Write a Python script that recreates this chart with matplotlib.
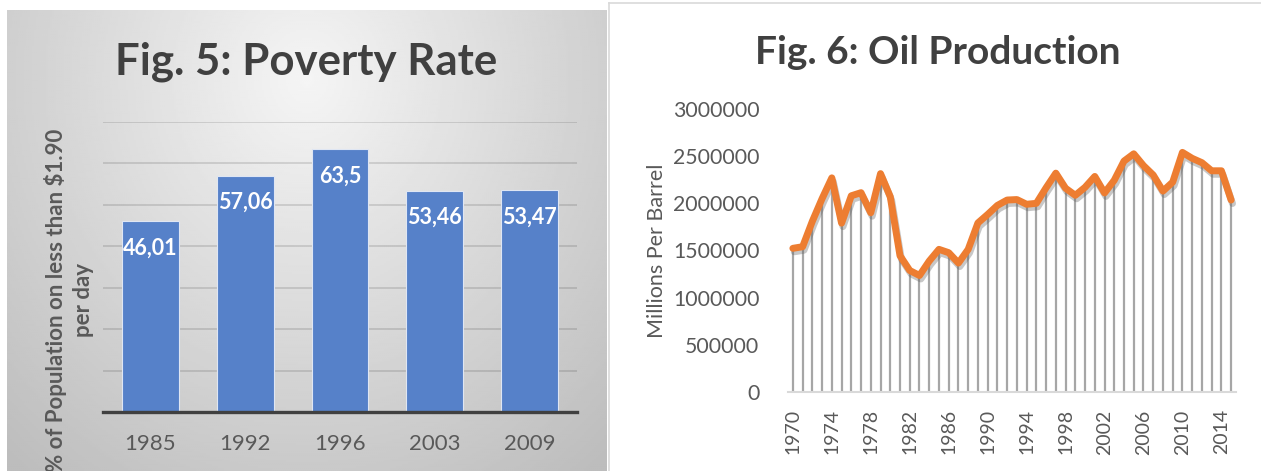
import matplotlib
matplotlib.use('Agg')
import matplotlib.pyplot as plt
import matplotlib.patheffects as pe
import numpy as np

plt.rcParams['font.family'] = ['Lato', 'DejaVu Sans']

# Fig. 5 data
pov_years = ['1985', '1992', '1996', '2003', '2009']
pov_rate = [46.01, 57.06, 63.5, 53.46, 53.47]
pov_labels = ['46,01', '57,06', '63,5', '53,46', '53,47']

# Fig. 6 data
oil_years = list(range(1970, 2016))
oil_prod = [1523000, 1540000, 1810000, 2050000, 2270000, 1790000, 2080000, 2113000,
            1900000, 2315000, 2070000, 1445000, 1288000, 1235000, 1388000, 1512000,
            1477000, 1367000, 1512000, 1792000, 1882000, 1978000, 2035000, 2040000,
            1990000, 2000000, 2165000, 2320000, 2160000, 2085000, 2170000, 2285000,
            2110000, 2245000, 2448000, 2525000, 2400000, 2300000, 2130000, 2225000,
            2540000, 2477000, 2431000, 2345000, 2345000, 2035000]

W, H = 1261, 471
fig = plt.figure(figsize=(W / 100, H / 100), dpi=100)

def fx(px):
    return px / W

def fy(py):
    return 1 - py / H

# left panel gradient background
bg = fig.add_axes([fx(7), 0, fx(600), fy(10)])
gx, gy = np.meshgrid(np.linspace(0, 1, 300), np.linspace(0, 1, 240))
r = np.sqrt(((gx - 0.5) / 0.75) ** 2 + ((gy - 0.15) / 1.1) ** 2)
shade = 0.96 - 0.22 * np.clip(r, 0, 1)
bg.imshow(shade, cmap='gray', vmin=0, vmax=1, aspect='auto', extent=[0, 1, 0, 1])
bg.set_axis_off()

# right panel border
fig.add_artist(plt.Line2D([fx(609), fx(609)], [0, fy(3)], color='#d9d9d9', lw=1.2))
fig.add_artist(plt.Line2D([fx(609), 1], [fy(3), fy(3)], color='#d9d9d9', lw=1.2))

# ---- Fig. 5 ----
ax1 = fig.add_axes([fx(103), fy(412), fx(474), fy(122) - fy(412)])
ax1.patch.set_alpha(0)
xpos = np.arange(len(pov_years))
ax1.bar(xpos, pov_rate, width=0.6, color='#5681c9', edgecolor='#dfe6f3', lw=0.8, zorder=3)
ax1.set_xlim(-0.5, len(pov_years) - 0.5)
ax1.set_ylim(0, 70)
ax1.set_yticks(np.arange(10, 71, 10))
ax1.yaxis.grid(True, color='black', alpha=0.13, lw=1.3, zorder=0)
ax1.set_axisbelow(True)
for s in ['left', 'right', 'top']:
    ax1.spines[s].set_visible(False)
ax1.spines['bottom'].set_color('#404040')
ax1.spines['bottom'].set_linewidth(2.4)
ax1.spines['bottom'].set_zorder(4)
ax1.tick_params(axis='y', left=False, labelleft=False)
ax1.tick_params(axis='x', bottom=False, pad=12, labelsize=16, labelcolor='#595959')
ax1.set_xticks(xpos)
ax1.set_xticklabels(pov_years)
for x, v, lab in zip(xpos, pov_rate, pov_labels):
    ax1.annotate(lab, (x, v), xytext=(0, -27), textcoords='offset pixels',
                 ha='center', va='center', color='white', fontsize=15.5,
                 fontweight='bold', zorder=5)

fig.text(fx(306), fy(62), 'Fig. 5: Poverty Rate', ha='center', va='center',
         fontsize=31.5, fontweight='bold', color='#404040')
fig.text(fx(69), fy(300), '% of Population on less than $1.90\nper day',
         rotation=90, ha='center', va='center', multialignment='center',
         fontsize=16, fontweight='bold', color='#595959', linespacing=1.35)

# ---- Fig. 6 ----
ax2 = fig.add_axes([fx(788), fy(392), fx(448), fy(109) - fy(392)])
xi = np.arange(len(oil_years))
ax2.vlines(xi, 0, oil_prod, color='#a6a6a6', lw=1.6, zorder=2)
ax2.plot(xi, oil_prod, color='#ed7d31', lw=5, solid_joinstyle='round',
         solid_capstyle='round', zorder=3,
         path_effects=[pe.SimpleLineShadow(offset=(1, -2.5), shadow_color='#606060', alpha=0.35),
                       pe.Normal()])
ax2.set_xlim(-0.5, len(oil_years) - 0.5)
ax2.set_ylim(0, 3000000)
ax2.set_yticks(np.arange(0, 3000001, 500000))
ax2.set_yticklabels([str(v) for v in range(0, 3000001, 500000)])
ax2.set_xticks(xi[::4])
ax2.set_xticklabels([str(y) for y in oil_years[::4]], rotation=90)
for s in ['left', 'right', 'top']:
    ax2.spines[s].set_visible(False)
ax2.spines['bottom'].set_color('#d9d9d9')
ax2.spines['bottom'].set_linewidth(1.5)
ax2.tick_params(axis='y', left=False, pad=17, labelsize=15.3, labelcolor='#595959')
ax2.tick_params(axis='x', bottom=False, pad=9, labelsize=14, labelcolor='#595959')
ax2.set_ylabel('Millions Per Barrel', fontsize=15.5, color='#595959')
ax2.yaxis.set_label_coords((667 - 788) / 448, 0.5)

fig.text(fx(938), fy(52), 'Fig. 6: Oil Production', ha='center', va='center',
         fontsize=28, fontweight='bold', color='#404040')

fig.savefig('out.png', dpi=100)
